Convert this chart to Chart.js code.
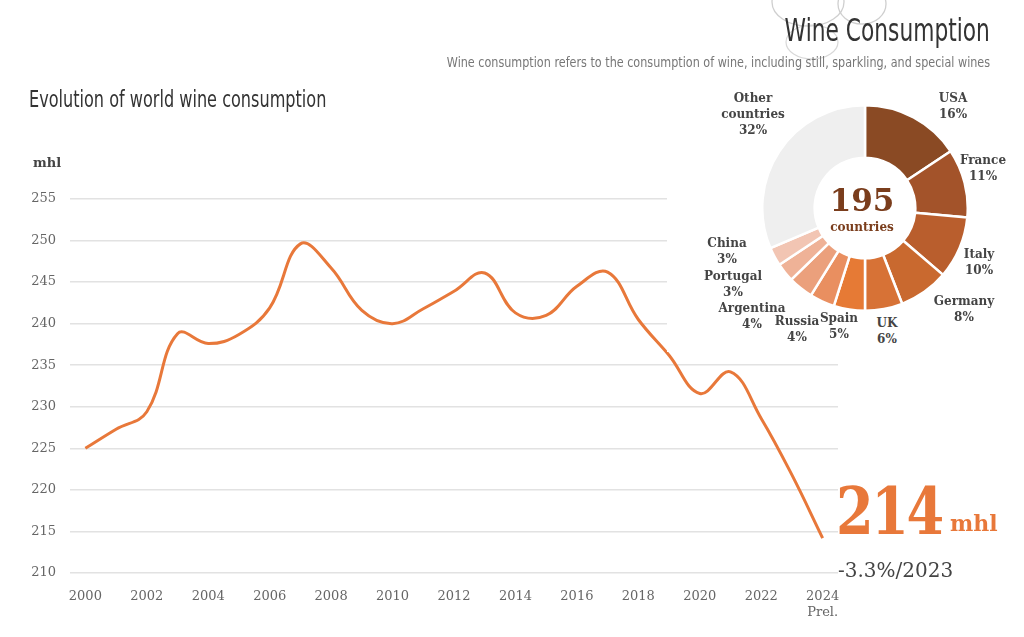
<!DOCTYPE html>
<html>
<head>
<meta charset="utf-8">
<script src="https://cdn.jsdelivr.net/npm/chart.js@4/dist/chart.umd.min.js"></script>
<style>
  html, body { margin: 0; padding: 0; background: #fff; }
  body { width: 1024px; height: 637px; position: relative; overflow: hidden; }
  .cond { font-family: "DejaVu Sans", sans-serif; }
  .serif { font-family: "DejaVu Serif", "Liberation Serif", serif; }
  #lineWrap { position: absolute; left: 0; top: 0; width: 1024px; height: 637px; }
  #pieBox { position: absolute; left: 667px; top: 80px; width: 357px; height: 272px; background: #fff; }
  #pieWrap { position: absolute; left: 761px; top: 104px; width: 208px; height: 208px; }
  .abs { position: absolute; white-space: nowrap; }
  .plab { position: absolute; transform: translateX(-50%); text-align: center; font-weight: bold; font-size: 12px; line-height: 16px; color: #444; white-space: nowrap; }
</style>
</head>
<body>
<svg class="abs" style="left:0;top:0" width="1024" height="80">
  <ellipse cx="808" cy="2" rx="36" ry="24" fill="none" stroke="#cfcfcf" stroke-width="1.3"/>
  <ellipse cx="862" cy="4" rx="24" ry="20" fill="none" stroke="#cfcfcf" stroke-width="1.3"/>
  <ellipse cx="812" cy="42" rx="26" ry="17" fill="none" stroke="#d8d8d8" stroke-width="1.2"/>
</svg>
<div id="lineWrap"><canvas id="lineChart"></canvas></div>

<div class="abs cond" style="right:34px;top:11px;font-size:32px;color:#333;transform:scaleX(0.68);transform-origin:right top;">Wine Consumption</div>
<div class="abs cond" style="right:34px;top:54px;font-size:14px;color:#777;transform:scaleX(0.80);transform-origin:right top;">Wine consumption refers to the consumption of wine, including still, sparkling, and special wines</div>
<div class="abs cond" style="left:29px;top:86px;font-size:23px;color:#333;transform:scaleX(0.70);transform-origin:left top;">Evolution of world wine consumption</div>
<div class="abs serif" style="left:33px;top:155px;font-size:13px;font-weight:bold;color:#444;">mhl</div>

<div id="pieBox"></div>
<div id="pieWrap"><canvas id="pieChart"></canvas></div>
<div class="abs serif" style="left:812px;top:182px;width:100px;text-align:center;font-size:31px;font-weight:bold;color:#7a3d1c;">195</div>
<div class="abs serif" style="left:812px;top:220px;width:100px;text-align:center;font-size:12px;font-weight:bold;color:#7a3d1c;">countries</div>

<div id="pieLabels" class="serif"></div>

<div class="abs serif" style="left:836px;top:472px;font-size:66px;font-weight:bold;color:#e8783a;letter-spacing:-3px;transform:scaleX(0.82);transform-origin:left top;">214</div>
<div class="abs serif" style="left:950px;top:510px;font-size:22px;font-weight:bold;color:#e8783a;">mhl</div>
<div class="abs serif" style="left:838px;top:558px;font-size:20px;color:#444;">-3.3%/2023</div>

<script>
const years = ['2000','2001','2002','2003','2004','2005','2006','2007','2008','2009','2010','2011','2012',
  '2013','2014','2015','2016','2017','2018','2019','2020','2021','2022','2023','2024'];
const consumption = [225.0, 227.3, 229.4, 238.8, 237.6, 238.7, 241.9, 249.6, 246.7, 241.6, 240.0, 241.8, 243.9,
  246.1, 241.3, 241.0, 244.5, 246.2, 240.5, 236.2, 231.6, 234.2, 228.6, 221.8, 214.2];
const yTicks = { min: 210, max: 255, step: 5 };

const countries = ['USA', 'France', 'Italy', 'Germany', 'UK', 'Spain', 'Russia', 'Argentina', 'Portugal', 'China', 'Other countries'];
const shares = [16, 11, 10, 8, 6, 5, 4, 4, 3, 3, 32];
const shareColors = ['#8a4a24', '#a3532a', '#b95e2d', '#c9692f', '#d77236', '#e67a35', '#e98f60', '#eba07c', '#efb297', '#f2c5b3', '#efefef'];

// label anchor (center top) for each share, same order as countries
const labelPos = [
  [953, 90], [983, 152], [979, 246], [964, 293], [887, 315], [839, 310],
  [797, 313], [752, 300], [733, 268], [727, 235], [753, 90]
];

const orange = '#e8783a';

const lineCtx = document.getElementById('lineChart');
new Chart(lineCtx, {
  type: 'line',
  data: {
    labels: years,
    datasets: [{
      data: consumption,
      borderColor: orange,
      borderWidth: 3,
      tension: 0.4,
      pointRadius: 0,
      fill: false
    }]
  },
  options: {
    responsive: true,
    maintainAspectRatio: false,
    animation: false,
    layout: { padding: { left: 0, right: 186, top: 199, bottom: 14 } },
    plugins: { legend: { display: false }, tooltip: { enabled: false } },
    scales: {
      x: {
        offset: true,
        grid: { display: false },
        border: { display: false },
        afterFit: s => { s.height = 50; },
        ticks: {
          autoSkip: false,
          maxRotation: 0,
          padding: 8,
          color: '#666',
          font: { family: 'DejaVu Serif', size: 13 },
          callback: function(v, i) {
            const y = years[i];
            if (i % 2) return '';
            return y === '2024' ? [y, 'Prel.'] : y;
          }
        }
      },
      y: {
        min: yTicks.min,
        max: yTicks.max,
        afterFit: s => { s.width = 70; },
        grid: { color: '#e2e2e2', lineWidth: 1.5, drawTicks: false },
        border: { display: false },
        ticks: {
          stepSize: yTicks.step,
          padding: 14,
          color: '#666',
          font: { family: 'DejaVu Serif', size: 13 }
        }
      }
    }
  }
});

new Chart(document.getElementById('pieChart'), {
  type: 'doughnut',
  data: {
    labels: countries,
    datasets: [{
      data: shares,
      backgroundColor: shareColors,
      borderColor: '#fff',
      borderWidth: 2.5
    }]
  },
  options: {
    responsive: true,
    maintainAspectRatio: false,
    animation: false,
    cutout: '49%',
    plugins: { legend: { display: false }, tooltip: { enabled: false } }
  }
});

const lbl = document.getElementById('pieLabels');
countries.forEach((c, i) => {
  const d = document.createElement('div');
  d.className = 'plab';
  d.style.left = labelPos[i][0] + 'px';
  d.style.top = labelPos[i][1] + 'px';
  const name = c === 'Other countries' ? 'Other<br>countries' : c;
  d.innerHTML = name + '<br>' + shares[i] + '%';
  lbl.appendChild(d);
});
</script>
</body>
</html>
